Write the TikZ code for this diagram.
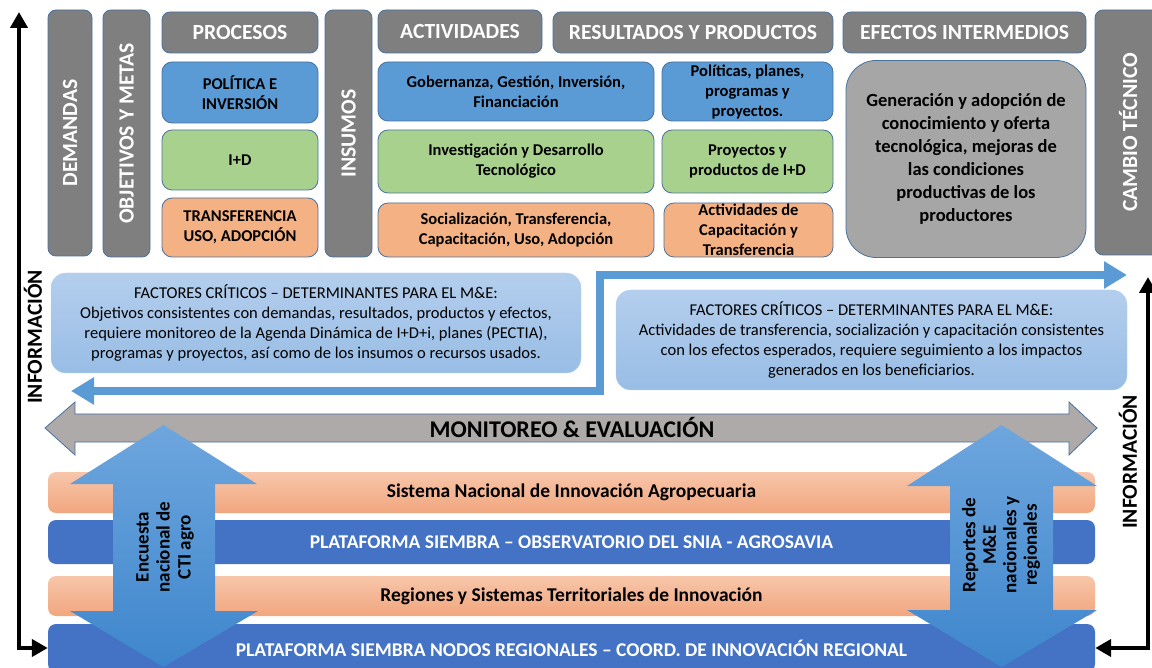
\documentclass[tikz,border=0pt]{standalone}
\usepackage{fontspec}
\setmainfont{Carlito}
\usetikzlibrary{arrows.meta}

\definecolor{grisoscuro}{RGB}{127,127,127}
\definecolor{borde}{RGB}{72,114,160}
\definecolor{azul}{RGB}{91,155,213}
\definecolor{verde}{RGB}{169,209,142}
\definecolor{naranja}{RGB}{244,177,131}
\definecolor{grisefecto}{RGB}{166,166,166}
\definecolor{azulclaro}{RGB}{180,206,237}
\definecolor{azulmedio}{RGB}{152,189,229}
\definecolor{salmonclaro}{RGB}{247,198,170}
\definecolor{salmon}{RGB}{241,166,126}
\definecolor{azulfranja}{RGB}{68,114,196}
\definecolor{grismye}{RGB}{174,170,170}
\definecolor{azulflecha}{RGB}{110,166,222}
\definecolor{azulflechaosc}{RGB}{62,134,204}

\begin{document}
\begin{tikzpicture}[x=1pt, y=1pt,
        cabeza/.style={rectangle, rounded corners=8pt, fill=grisoscuro, draw=borde, line width=0.8pt, text=white, inner sep=0pt, font=\fontsize{21.6}{24}\selectfont\bfseries},
        caja/.style={rectangle, rounded corners=10pt, draw=borde, line width=0.8pt, inner sep=0pt, align=center, font=\fontsize{16.5}{20}\selectfont\bfseries},
        factor/.style={rectangle, rounded corners=15pt, top color=azulclaro, bottom color=azulmedio, draw=azulclaro, inner sep=0pt, align=center, font=\fontsize{16.5}{19.8}\selectfont},
        franja/.style={rectangle, rounded corners=8pt, inner sep=0pt, minimum width=1047pt, font=\fontsize{19.5}{22}\selectfont\bfseries},
        info/.style={rotate=90, inner sep=0pt, font=\fontsize{21.5}{24}\selectfont\bfseries},
        vertical/.style={rotate=90, inner sep=0pt, align=center, font=\fontsize{19}{21}\selectfont\bfseries},
        flecha negra/.style={line width=4.5pt, {Triangle[length=16pt,width=17pt]}-{Triangle[length=16pt,width=17pt]}},
        flecha azul/.style={draw=azul, line width=8pt, line join=miter, {Triangle[length=23pt,width=26pt]}-{Triangle[length=23pt,width=26pt]}}]
            \useasboundingbox (0,0) rectangle (1152,-668);

            \node[cabeza, rotate=90, minimum width=246pt, minimum height=44pt] (demandas) at (70,-133) {DEMANDAS};
            \node[cabeza, rotate=90, minimum width=247pt, minimum height=47pt] (objetivos) at (126.5,-133.5) {OBJETIVOS Y METAS};
            \node[cabeza, rotate=90, minimum width=247pt, minimum height=47pt] (insumos) at (348.5,-133.5) {INSUMOS};
            \node[cabeza, rotate=90, minimum width=245pt, minimum height=66pt] (cambio) at (1128,-132.5) {CAMBIO TÉCNICO};

            \node[cabeza, minimum width=156pt, minimum height=41pt] (procesos) at (240,-32.5) {PROCESOS};
            \node[cabeza, minimum width=164pt, minimum height=43pt] (actividades) at (460,-31.5) {ACTIVIDADES};
            \node[cabeza, minimum width=280pt, minimum height=41pt] (resultados) at (693,-32.5) {RESULTADOS Y PRODUCTOS};
            \node[cabeza, minimum width=243pt, minimum height=41pt] (efectos) at (964.5,-32.5) {EFECTOS INTERMEDIOS};

            \node[caja, fill=azul, minimum width=156pt, minimum height=61pt] (politica) at (240,-92.5) {POLÍTICA E\\INVERSIÓN};
            \node[caja, fill=verde, minimum width=156pt, minimum height=60pt] (imasd) at (240,-160) {I+D};
            \node[caja, fill=naranja, minimum width=156pt, minimum height=59pt] (transferencia) at (240,-227.5) {TRANSFERENCIA\\USO, ADOPCIÓN};

            \node[caja, fill=azul, minimum width=276pt, minimum height=59pt] (gobernanza) at (516,-91.5) {Gobernanza, Gestión, Inversión,\\Financiación};
            \node[caja, fill=verde, minimum width=276pt, minimum height=63pt] (investigacion) at (516,-161.5) {Investigación y Desarrollo\\Tecnológico};
            \node[caja, fill=naranja, minimum width=276pt, minimum height=54pt] (socializacion) at (516,-230) {Socialización,\ Transferencia,\\Capacitación,\ Uso, Adopción};

            \node[caja, fill=azul, minimum width=171pt, minimum height=59pt] (politicas) at (747.5,-91.5) {Políticas, planes,\\programas y\\proyectos.};
            \node[caja, fill=verde, minimum width=171pt, minimum height=63pt] (proyectos) at (747.5,-161.5) {Proyectos y\\productos de I+D};
            \node[caja, fill=naranja, minimum width=169pt, minimum height=54pt] (capacitacion) at (748.5,-230) {Actividades de\\Capacitación y\\Transferencia};

            \node[caja, fill=grisefecto, rounded corners=30pt, minimum width=240pt, minimum height=197pt, font=\fontsize{18.5}{23}\selectfont\bfseries] (generacion) at (966,-159) {Generación y adopción de\\conocimiento y oferta\\tecnológica, mejoras de\\las condiciones\\productivas de los\\productores};

            \node[factor, minimum width=530pt, minimum height=100pt] (factorizq) at (316,-323) {FACTORES CRÍTICOS – DETERMINANTES PARA EL M\&E:\\Objetivos consistentes con demandas, resultados, productos y efectos,\\requiere monitoreo de la Agenda Dinámica de I+D+i, planes (PECTIA),\\programas y proyectos, así como de los insumos o recursos usados.};
            \node[factor, minimum width=511pt, minimum height=100pt] (factorder) at (871.5,-340) {FACTORES CRÍTICOS – DETERMINANTES PARA EL M\&E:\\Actividades de transferencia, socialización y capacitación consistentes\\con los efectos esperados, requiere seguimiento a los impactos\\generados en los beneficiarios.};

            \coordinate (flechaizq) at (71,-391);
            \coordinate (codo) at (600,-333);
            \coordinate (flechader) at (1127,-275);
            \draw[flecha azul] (flechaizq) -| (codo) |- (flechader);

            \node[franja, top color=salmonclaro, bottom color=salmon, minimum height=41pt] (sistema) at (571.5,-492.5) {Sistema Nacional de Innovación Agropecuaria};
            \node[franja, fill=azulfranja, text=white, minimum height=44pt] (observatorio) at (571.5,-542) {PLATAFORMA SIEMBRA – OBSERVATORIO DEL SNIA - AGROSAVIA};
            \node[franja, top color=salmonclaro, bottom color=salmon, minimum height=40pt] (regiones) at (571.5,-596) {Regiones y Sistemas Territoriales de Innovación};
            \node[franja, fill=azulfranja, text=white, minimum height=48pt] (nodos) at (571.5,-648) {PLATAFORMA SIEMBRA NODOS REGIONALES – COORD. DE INNOVACIÓN REGIONAL};

            \filldraw[fill=grismye, draw=borde, line width=0.8pt] (45,-428) -- (75,-402) -- (75,-414) -- (1069,-414) -- (1069,-402) -- (1097,-428) -- (1069,-455) -- (1069,-442) -- (75,-442) -- (75,-455) -- cycle;
            \node[font=\fontsize{24}{28}\selectfont\bfseries, inner sep=0pt] (monev) at (572,-428) {MONITOREO \& EVALUACIÓN};

            \shade[top color=azulflecha, bottom color=azulflechaosc] (163.5,-425) -- (257,-484) -- (215,-484) -- (215,-611) -- (258,-611) -- (163.5,-667) -- (70,-611) -- (113,-611) -- (113,-484) -- (70,-484) -- cycle;
            \shade[top color=azulflecha, bottom color=azulflechaosc] (1001.5,-425) -- (1097,-486) -- (1053,-486) -- (1053,-610) -- (1097,-610) -- (1001.5,-667) -- (907,-610) -- (950,-610) -- (950,-486) -- (907,-486) -- cycle;
            \node[vertical] (encuesta) at (165,-547) {Encuesta\\nacional de\\CTI agro};
            \node[vertical, font=\fontsize{19}{20.5}\selectfont\bfseries] (reportes) at (1001,-545) {Reportes de\\M\&E\\nacionales y\\regionales};

            \coordinate (infoizq) at (19,-12);
            \coordinate (infoder) at (1148,-277);
            \draw[flecha negra] (infoizq) |- (nodos.west);
            \draw[flecha negra] (infoder) |- (nodos.east);
            \node[info] (informacionizq) at (33,-337) {INFORMACIÓN};
            \node[info] (informacionder) at (1128,-462) {INFORMACIÓN};
        \end{tikzpicture}
\end{document}
